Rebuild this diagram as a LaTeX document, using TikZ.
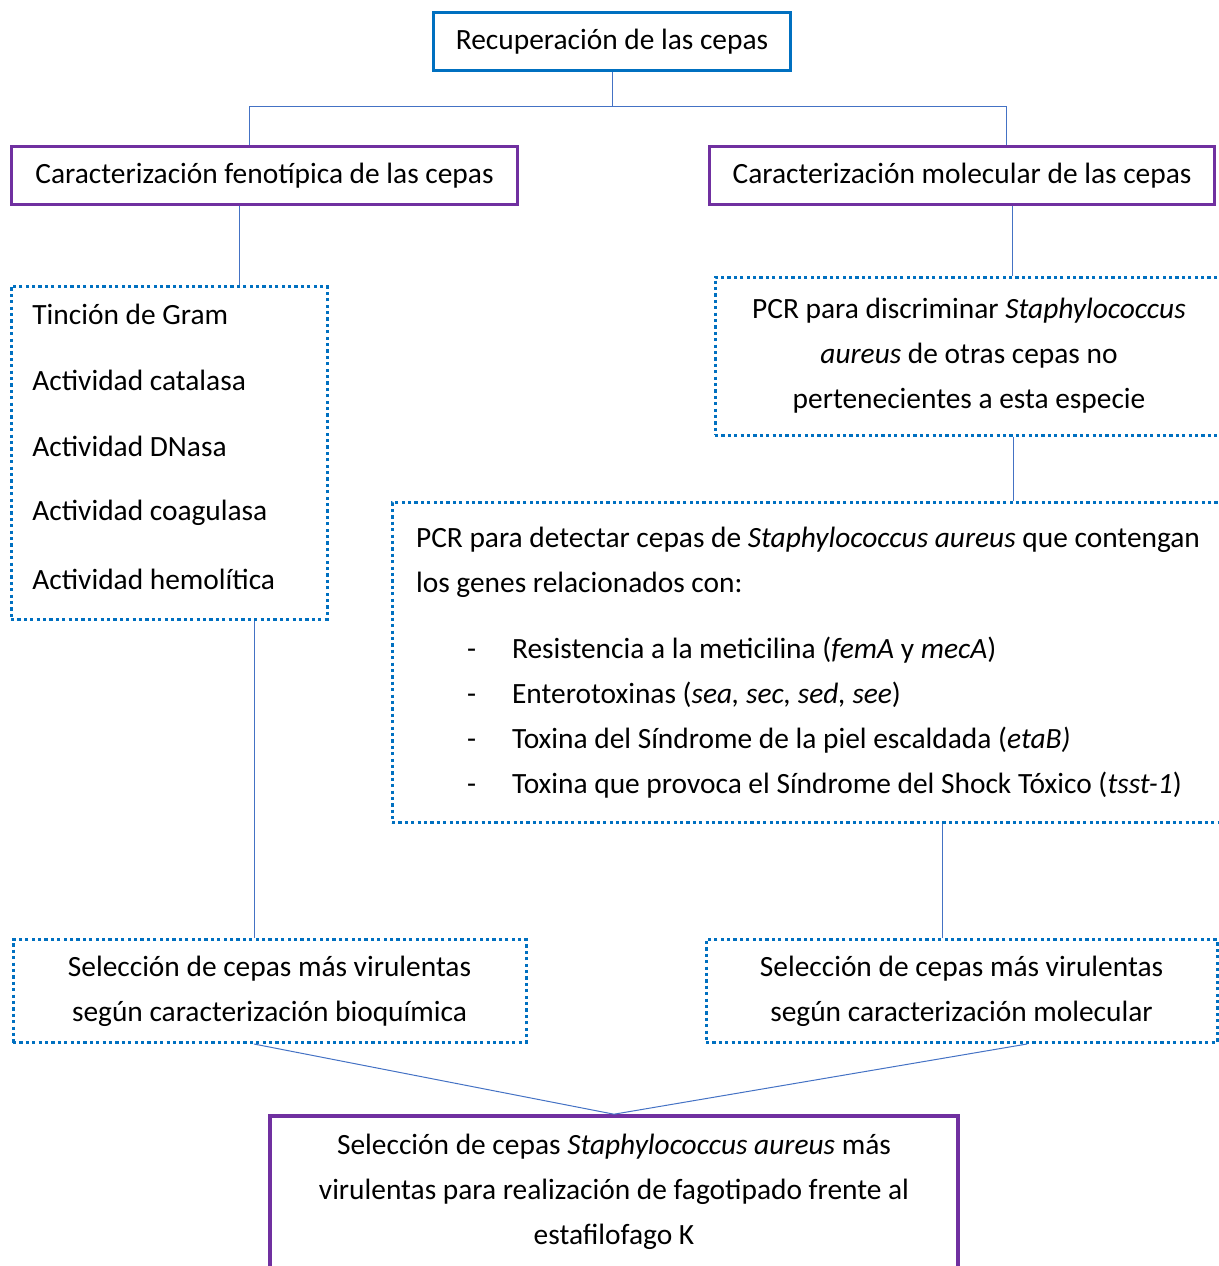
\documentclass[tikz,border=0pt]{standalone}
\usepackage{fontspec}
\setmainfont{Carlito}
\usetikzlibrary{calc}
\definecolor{boxblue}{HTML}{0070C0}
\definecolor{boxpurple}{HTML}{7030A0}
\definecolor{linkblue}{HTML}{4472C4}

\begin{document}
\begin{tikzpicture}[x=0.5pt,y=-0.5pt,font=\fontsize{14.7}{22.5}\selectfont]
		\tikzstyle {blue box} = [draw=boxblue, line width=1.8pt, inner sep=0pt]
		\tikzstyle {purple box} = [draw=boxpurple, line width=1.8pt, inner sep=0pt, minimum height=29pt]
		\tikzstyle {dot box} = [draw=boxblue, line width=1.5pt, dash pattern=on 1.6pt off 1.6pt, inner sep=0pt]
		\tikzstyle {link} = [draw=linkblue, line width=0.5pt]

		\useasboundingbox (0,0) rectangle (1219,1266);
		\clip (0,0) rectangle (1219,1266);

		\node[blue box, minimum width=178.5pt, minimum height=29pt] (rec) at (612,41.5) {Recuperación de las cepas};
		\node[purple box, minimum width=253pt] (feno) at (264.5,175.5) {Caracterización fenotípica de las cepas};
		\node[purple box, minimum width=252.5pt] (mol) at (962,175.5) {Caracterización molecular de las cepas};

		\node[dot box, minimum width=158pt, minimum height=166.5pt] (pruebas) at (169,452.5) {};
		\foreach \t [count=\i] in {Tinción de Gram, Actividad catalasa, Actividad DNasa, Actividad coagulasa, Actividad hemolítica}
		{
			\node[anchor=west, inner sep=0pt] (prueba\i) at (32,{314+66.25*(\i-1)}) {\t};
		}

		\node[dot box, minimum width=254pt, minimum height=79pt, align=center] (pcrsa) at (969,356)
			{PCR para discriminar \textit{Staphylococcus}\\ \textit{aureus} de otras cepas no\\ pertenecientes a esta especie};

		\node[dot box, minimum width=416pt, minimum height=160pt, align=left] (genes) at (808,662.5)
			{PCR para detectar cepas de \textit{Staphylococcus aureus} que contengan\\
			los genes relacionados con:\\[10.5pt]
			\hspace*{25.5pt}\makebox[22.5pt][l]{-}Resistencia a la meticilina (\textit{femA} y \textit{mecA})\\
			\hspace*{25.5pt}\makebox[22.5pt][l]{-}Enterotoxinas (\textit{sea, sec, sed, see})\\
			\hspace*{25.5pt}\makebox[22.5pt][l]{-}Toxina del Síndrome de la piel escaldada (\textit{etaB)}\\
			\hspace*{25.5pt}\makebox[22.5pt][l]{-}Toxina que provoca el Síndrome del Shock Tóxico (\textit{tsst-1})};

		\node[dot box, minimum width=256.5pt, minimum height=51.5pt, align=center] (selbio) at (269.5,991)
			{Selección de cepas más virulentas\\ según caracterización bioquímica};
		\node[dot box, minimum width=255.5pt, minimum height=51.5pt, align=center] (selmol) at (961.5,991)
			{Selección de cepas más virulentas\\ según caracterización molecular};

		\node[purple box, minimum width=344pt, minimum height=76pt, align=center] (final) at (614,1192)
			{Selección de cepas \textit{Staphylococcus aureus} más\\ virulentas para realización de fagotipado frente al\\ estafilofago K};

		\draw[link] (rec.south) -- ++(0,34) coordinate (split);
		\draw[link] ($(feno.north)+(-15.5,0)$) |- (split) -| ($(mol.north)+(44,0)$);

		\draw[link] ($(feno.south)+(-25.5,0)$) -- ($(pruebas.north)+(70,0)$);
		\draw[link] ($(mol.south)+(50,0)$) coordinate (m) -- (m |- pcrsa.north);
		\draw[link] ($(pcrsa.south)+(44,0)$) coordinate (p) -- (p |- genes.north);
		\draw[link] ($(genes.south)+(134,0)$) coordinate (g) -- (g |- selmol.north);
		\draw[link] ($(pruebas.south)+(85,0)$) coordinate (t) -- (t |- selbio.north);

		\draw[link] ($(selbio.south)+(-15.5,0)$) -- (final.north);
		\draw[link] ($(selmol.south)+(65.5,0)$) -- (final.north);

	\end{tikzpicture}
\end{document}
